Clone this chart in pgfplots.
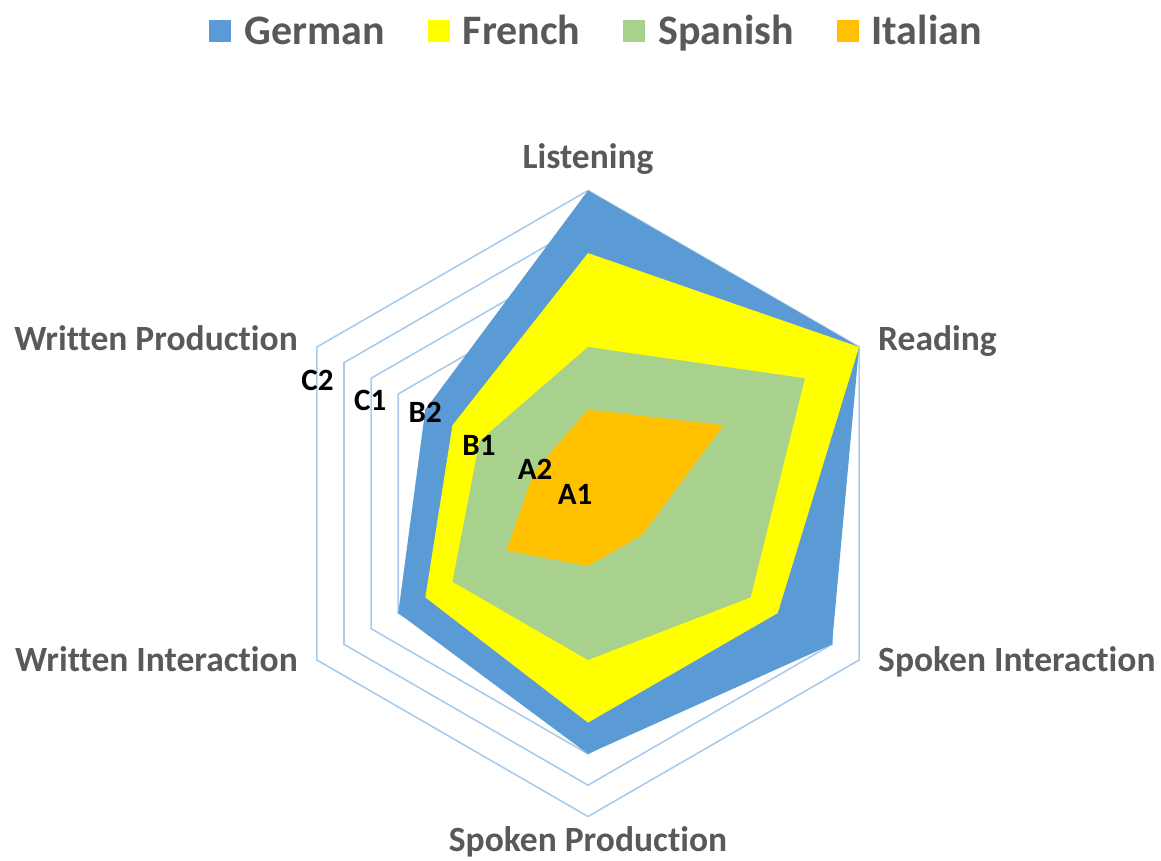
\documentclass[border=0pt]{standalone}
\usepackage{fontspec}
\setmainfont{Carlito}[Ligatures={NoCommon}]
\usepackage{pgfplots}
\pgfplotsset{compat=1.18}
\usepgfplotslibrary{polar}
\definecolor{german}{HTML}{5B9BD5}
\definecolor{french}{HTML}{FFFF00}
\definecolor{spanish}{HTML}{A9D18E}
\definecolor{italian}{HTML}{FFC000}
\definecolor{gridblue}{HTML}{A9CCEC}
\definecolor{labelgray}{HTML}{595959}
\newcommand{\catfont}{\fontsize{35.5pt}{42pt}\selectfont\bfseries}
\newcommand{\legfont}{\fontsize{42pt}{48pt}\selectfont\bfseries}
\newcommand{\lvlfont}{\fontsize{31pt}{36pt}\selectfont\bfseries}
\begin{document}
\begin{tikzpicture}
\begin{polaraxis}[
  scale only axis, width=626pt, height=626pt,
  xmin=0, xmax=360, ymin=0, ymax=10,
  hide axis, clip=false,
  legend columns=4,
  legend style={at={(0.512,1.2548)}, anchor=center, draw=none, fill=none,
    font=\legfont, text=labelgray,
    nodes={inner xsep=0pt},
    /tikz/every odd column/.append style={column sep=13pt},
    /tikz/every even column/.append style={column sep=43pt}},
  legend image code/.code={\fill[#1] (0pt,-11pt) rectangle (22pt,11pt);},
]
% hexagonal grid rings (levels 1..10)
\addplot[forget plot, draw=gridblue, line width=1.6pt] coordinates {(90,1) (30,1) (330,1) (270,1) (210,1) (150,1) (90,1)};
\addplot[forget plot, draw=gridblue, line width=1.6pt] coordinates {(90,2) (30,2) (330,2) (270,2) (210,2) (150,2) (90,2)};
\addplot[forget plot, draw=gridblue, line width=1.6pt] coordinates {(90,3) (30,3) (330,3) (270,3) (210,3) (150,3) (90,3)};
\addplot[forget plot, draw=gridblue, line width=1.6pt] coordinates {(90,4) (30,4) (330,4) (270,4) (210,4) (150,4) (90,4)};
\addplot[forget plot, draw=gridblue, line width=1.6pt] coordinates {(90,5) (30,5) (330,5) (270,5) (210,5) (150,5) (90,5)};
\addplot[forget plot, draw=gridblue, line width=1.6pt] coordinates {(90,6) (30,6) (330,6) (270,6) (210,6) (150,6) (90,6)};
\addplot[forget plot, draw=gridblue, line width=1.6pt] coordinates {(90,7) (30,7) (330,7) (270,7) (210,7) (150,7) (90,7)};
\addplot[forget plot, draw=gridblue, line width=1.6pt] coordinates {(90,8) (30,8) (330,8) (270,8) (210,8) (150,8) (90,8)};
\addplot[forget plot, draw=gridblue, line width=1.6pt] coordinates {(90,9) (30,9) (330,9) (270,9) (210,9) (150,9) (90,9)};
\addplot[forget plot, draw=gridblue, line width=1.6pt] coordinates {(90,10) (30,10) (330,10) (270,10) (210,10) (150,10) (90,10)};
% series: Listening(90) Reading(30) Spoken Int.(330) Spoken Prod.(270) Written Int.(210) Written Prod.(150)
\addplot[fill=german, draw=none] coordinates {(90,10) (30,10) (330,9) (270,8) (210,7) (150,6) (90,10)};
\addlegendentry{German}
\addplot[fill=french, draw=none] coordinates {(90,8) (30,10) (330,7) (270,7) (210,6) (150,5) (90,8)};
\addlegendentry{French}
\addplot[fill=spanish, draw=none] coordinates {(90,5) (30,8) (330,6) (270,5) (210,5) (150,4) (90,5)};
\addlegendentry{Spanish}
\addplot[fill=italian, draw=none] coordinates {(90,3) (30,5) (330,2) (270,2) (210,3) (150,2) (90,3)};
\addlegendentry{Italian}
% level labels
\node[font=\lvlfont] at (axis cs:155.5,9.5) {C2};
\node[font=\lvlfont] at (axis cs:154.6,7.7) {C1};
\node[font=\lvlfont] at (axis cs:150.8,5.96) {B2};
\node[font=\lvlfont] at (axis cs:151.8,3.95) {B1};
\node[font=\lvlfont] at (axis cs:147.2,2.01) {A2};
\node[font=\lvlfont] at (axis cs:146,0.5) {A1};
\coordinate (c) at (axis cs:0,0);
\end{polaraxis}
\node[anchor=base, font=\catfont, text=labelgray, inner sep=0pt] at ([shift={(0pt,334.5pt)}]c) {Listening};
\node[anchor=base west, font=\catfont, text=labelgray, inner sep=0pt] at ([shift={(290pt,152.5pt)}]c) {Reading};
\node[anchor=base east, font=\catfont, text=labelgray, inner sep=0pt] at ([shift={(-290pt,152.5pt)}]c) {Written Production};
\node[anchor=base west, font=\catfont, text=labelgray, inner sep=0pt] at ([shift={(290pt,-168.5pt)}]c) {Spoken Interaction};
\node[anchor=base east, font=\catfont, text=labelgray, inner sep=0pt] at ([shift={(-290pt,-168.5pt)}]c) {Written Interaction};
\node[anchor=base, font=\catfont, text=labelgray, inner sep=0pt] at ([shift={(0pt,-348.5pt)}]c) {Spoken Production};
\pgfresetboundingbox
\path[use as bounding box] (c) ++(-588pt,503.5pt) rectangle ++(1161pt,-861pt);
\end{tikzpicture}
\end{document}
